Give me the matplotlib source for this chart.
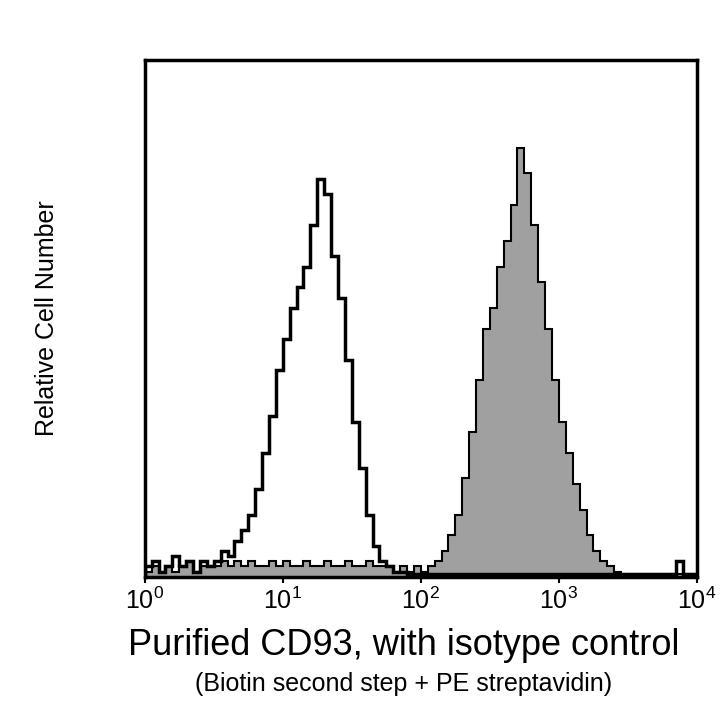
import numpy as np
import matplotlib.pyplot as plt

plt.rcParams['font.family'] = 'Liberation Sans'
plt.rcParams['mathtext.fontset'] = 'custom'
plt.rcParams['mathtext.rm'] = 'Liberation Sans'

# histogram values per bin, bins 0.05 decade wide from 10^0 to 10^4
isotype = [2, 3, 1, 2, 4, 2, 3, 1, 3, 2,
           3, 5, 4, 7, 9, 12, 17, 24, 31, 40,
           46, 52, 56, 60, 68, 77, 74, 62, 54, 42,
           30, 21, 12, 6, 3, 2, 1, 1, 0.5, 0.5,
           0.5, 0.5, 0.5, 0.5, 0.5, 0.5, 0.5, 0.5, 0.5, 0.5,
           0.5, 0.5, 0.5, 0.5, 0.5, 0.5, 0.5, 0.5, 0.5, 0.5,
           0.5, 0.5, 0.5, 0.5, 0.5, 0.5, 0.5, 0.5, 0.5, 0.5,
           0.5, 0.5, 0.5, 0.5, 0.5, 0.5, 0.5, 3, 0.5, 0.5]
cd93 = [1, 2, 1, 2, 1, 2, 3, 1, 2, 2,
        2, 3, 2, 3, 2, 3, 2, 2, 3, 2,
        3, 2, 2, 3, 2, 2, 3, 2, 2, 3,
        2, 2, 3, 2, 2, 2, 1, 2, 1, 2,
        1, 2, 3, 5, 8, 12, 19, 28, 38, 48,
        52, 60, 65, 72, 83, 78, 68, 57, 48, 38,
        30, 24, 18, 13, 8, 5, 3, 2, 1, 0.5,
        0.5, 0.5, 0.5, 0.5, 0.5, 0.5, 0.5, 0.5, 0.5, 0.5]
edges = 10 ** np.linspace(0, 4, len(cd93) + 1)

fig = plt.figure(figsize=(7.2, 7.2), dpi=100)
ax = fig.add_axes([0.201, 0.199, 0.767, 0.718])

ax.stairs(cd93, edges, fill=True, color='#a0a0a0')
ax.stairs(cd93, edges, color='black', lw=1.5)
ax.stairs(isotype, edges, color='black', lw=2.5)

ax.set_xscale('log')
ax.set_xlim(1, 1e4)
ax.set_ylim(0, 100)
ax.set_yticks([])
ax.set_xticks([1, 10, 100, 1000, 10000])
ax.set_xticklabels([r'$10^{0}$', r'$10^{1}$', r'$10^{2}$', r'$10^{3}$', r'$10^{4}$'], fontsize=18)
ax.minorticks_off()
ax.tick_params(axis='x', length=4, width=1.5)
for s in ax.spines.values():
    s.set_linewidth(2.5)

ax.set_ylabel('Relative Cell Number', fontsize=18, labelpad=62)
fig.text(0.56, 0.09, 'Purified CD93, with isotype control', ha='center', fontsize=26)
fig.text(0.56, 0.04, '(Biotin second step + PE streptavidin)', ha='center', fontsize=18)

plt.savefig('out.png', dpi=100)
